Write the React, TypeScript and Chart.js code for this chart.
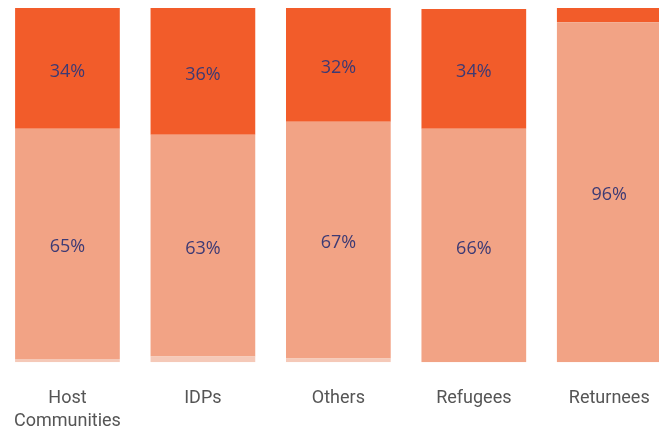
import React, { useEffect, useRef } from "react";
import { Chart, registerables } from "chart.js";

Chart.register(...registerables);

const categories: (string | string[])[] = [["Host", "Communities"], "IDPs", "Others", "Refugees", "Returnees"];
const bottomValues = [0.9, 1.6, 1.1, 0, 0];
const middleValues = [65.0, 62.6, 66.8, 65.9, 96.0];
const topValues = [34.1, 35.8, 32.1, 33.8, 4.0];

const labelPlugin = {
  id: "segLabels",
  afterDatasetsDraw(chart: any) {
    const ctx = chart.ctx;
    ctx.save();
    ctx.fillStyle = "#3d3a74";
    ctx.font = "18px 'Open Sans', 'Noto Sans', sans-serif";
    ctx.textAlign = "center";
    ctx.textBaseline = "middle";
    chart.data.datasets.forEach((ds: any, i: number) => {
      const meta = chart.getDatasetMeta(i);
      meta.data.forEach((el: any, j: number) => {
        const v = ds.data[j] as number;
        if (v < 10) return;
        const y = (el.y + el.base) / 2 + 3;
        ctx.fillText(`${Math.round(v)}%`, el.x, y);
      });
    });
    ctx.restore();
  },
};

export default function App() {
  const ref = useRef<HTMLCanvasElement | null>(null);
  useEffect(() => {
    if (!ref.current) return;
    const chart = new Chart(ref.current, {
      type: "bar",
      data: {
        labels: categories as any,
        datasets: [
          { label: "Bottom", data: bottomValues, backgroundColor: "#f5c9b8" },
          { label: "Middle", data: middleValues, backgroundColor: "#f2a385" },
          { label: "Top", data: topValues, backgroundColor: "#f25c2a" },
        ],
      },
      options: {
        animation: false,
        responsive: false,
        maintainAspectRatio: false,
        layout: { padding: { top: 8, left: 0, right: 0, bottom: 0 } },
        plugins: { legend: { display: false }, tooltip: { enabled: false } },
        datasets: { bar: { barPercentage: 0.773, categoryPercentage: 1 } } as any,
        scales: {
          x: {
            stacked: true,
            grid: { display: false, drawTicks: false },
            border: { display: false },
            ticks: {
              color: "#555555",
              font: { size: 18, family: "Roboto, 'Noto Sans', sans-serif", lineHeight: 1.27 },
              padding: 25,
              maxRotation: 0,
              autoSkip: false,
            },
          },
          y: { stacked: true, display: false, min: 0, max: 100 },
        },
      },
      plugins: [labelPlugin],
    });
    return () => chart.destroy();
  }, []);
  return (
    <div style={{ position: "absolute", left: 0, top: 0, width: 659, height: 432, overflow: "hidden", background: "#fff" }}>
      <canvas ref={ref} width={688} height={458} style={{ display: "block", width: 688, height: 458, marginLeft: -11 }} />
    </div>
  );
}
